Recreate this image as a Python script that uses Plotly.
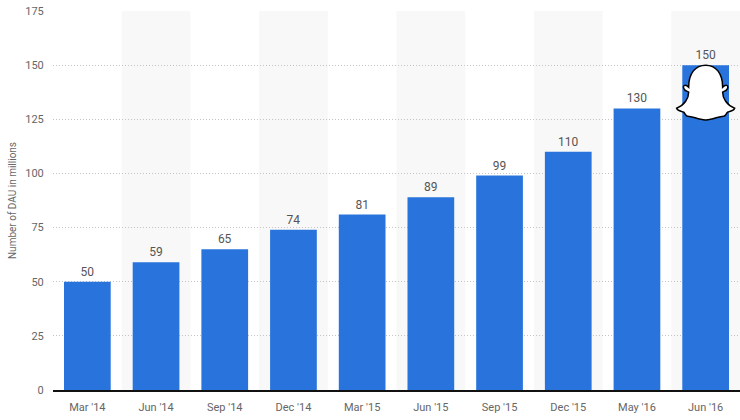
import plotly.graph_objects as go

categories = ["Mar '14", "Jun '14", "Sep '14", "Dec '14", "Mar '15", "Jun '15",
              "Sep '15", "Dec '15", "May '16", "Jun '16"]
dau_millions = [50, 59, 65, 74, 81, 89, 99, 110, 130, 150]
y_ticks = [0, 25, 50, 75, 100, 125, 150, 175]

FONT = "Roboto"
BAR = "#2874dc"

fig = go.Figure()
fig.add_trace(go.Bar(
    x=list(range(len(categories))), y=dau_millions,
    marker=dict(color=BAR, line=dict(width=0)),
    width=0.68,
    text=[str(v) for v in dau_millions], textposition="outside",
    textfont=dict(family=FONT, size=12, color="#555"),
    cliponaxis=False,
    hoverinfo="x+y",
))

shapes = []
for i in range(len(categories)):
    if i % 2 == 1:
        shapes.append(dict(type="rect", xref="x", yref="paper",
                           x0=i - 0.5, x1=i + 0.5, y0=0, y1=1,
                           fillcolor="#f8f8f8", line=dict(width=0), layer="below"))

ghost = ("M -17,-22 C -17,-8 -10,0 0,0 C 10,0 17,-8 17,-22 "
         "C 20,-19 23,-20 22,-23 C 21,-26 18,-26 17,-27 "
         "C 17,-33 21,-40 29,-43 C 28,-46 24,-46 22,-47 "
         "C 20,-49 20,-51 18,-51 C 14,-51 10,-53 5,-54 "
         "C 2,-55 -2,-55 -5,-54 C -10,-53 -14,-51 -18,-51 "
         "C -20,-51 -20,-49 -22,-47 C -24,-46 -28,-46 -29,-43 "
         "C -21,-40 -17,-33 -17,-27 C -18,-26 -21,-26 -22,-23 "
         "C -23,-20 -20,-19 -17,-22 Z")
shapes.append(dict(type="path", xref="x", yref="y",
                   xsizemode="pixel", ysizemode="pixel",
                   xanchor=len(categories) - 1, yanchor=dau_millions[-1],
                   path=ghost, fillcolor="white",
                   line=dict(color="black", width=1.5), layer="above"))

fig.update_layout(
    width=740, height=420,
    margin=dict(l=53, r=0, t=11, b=30, autoexpand=False),
    paper_bgcolor="white", plot_bgcolor="white",
    showlegend=False,
    shapes=shapes,
    font=dict(family=FONT, color="#666"),
    xaxis=dict(
        tickmode="array", tickvals=list(range(len(categories))), ticktext=categories,
        range=[-0.5, len(categories) - 0.5],
        showgrid=False, zeroline=False,
        showline=True, linecolor="#111", linewidth=1.5,
        ticks="outside", ticklen=6, tickcolor="rgba(0,0,0,0)",
        tickfont=dict(family=FONT, size=11, color="#666"),
    ),
    yaxis=dict(
        range=[0, 175], tickmode="array", tickvals=y_ticks,
        ticktext=[str(t) for t in y_ticks],
        showgrid=True, gridcolor="#c4c4c4", griddash="1px,2px", gridwidth=1,
        zeroline=False, showline=False,
        ticks="outside", ticklen=6, tickcolor="rgba(0,0,0,0)",
        tickfont=dict(family=FONT, size=11, color="#666"),
        title=dict(text="Number of DAU in millions",
                   font=dict(family=FONT, size=10, color="#666"), standoff=6),
    ),
)

fig.write_html(
    "out.html",
    config={"displayModeBar": False},
    post_script="document.body.style.margin='0';document.body.style.overflow='hidden';",
)
